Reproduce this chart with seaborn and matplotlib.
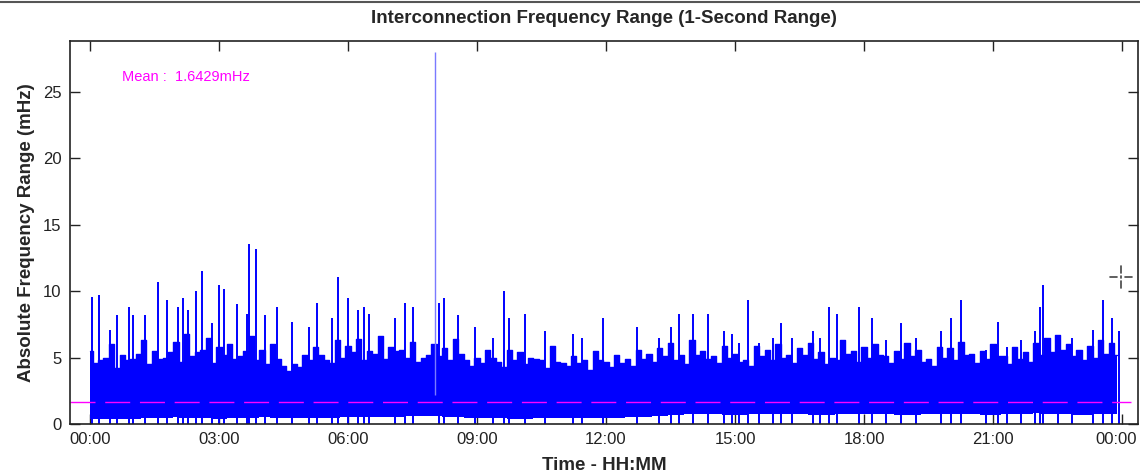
import numpy as np
import pandas as pd
import matplotlib
matplotlib.use('Agg')
import matplotlib.pyplot as plt
from matplotlib.lines import Line2D
from matplotlib.transforms import ScaledTranslation
import seaborn as sns

# ---- data (hours since 00:00, mHz) ----
MEAN_MHZ = 1.6429

spike_hours = [0.04, 0.22, 0.47, 0.62, 0.91, 0.99, 1.29, 1.59, 1.78, 2.04, 2.16, 2.29,
               2.46, 2.60, 2.83, 3.01, 3.12, 3.43, 3.64, 3.70, 3.85, 4.07, 4.36, 4.69,
               5.09, 5.27, 5.62, 5.76, 6.01, 6.24, 6.36, 6.49, 7.09, 7.33, 7.50, 8.02,
               8.12, 8.23, 8.55, 8.95, 9.38, 9.63, 9.75, 10.12, 10.57, 11.23, 11.45, 11.92,
               12.73, 13.22, 13.50, 13.70, 14.02, 14.36, 14.74, 14.92, 15.09, 15.30, 15.56,
               15.89, 16.06, 16.32, 16.81, 16.98, 17.19, 17.36, 17.88, 18.18, 18.51, 18.85,
               19.21, 19.79, 20.01, 20.26, 20.83, 21.12, 21.32, 21.65, 21.98, 22.09, 22.16,
               22.52, 22.83, 23.33, 23.55, 23.77, 23.93]
spike_vals = [9.6, 9.7, 7.1, 8.2, 8.8, 8.2, 8.2, 10.7, 9.3, 8.8, 9.5, 8.6,
              10.0, 11.5, 7.6, 10.5, 10.2, 9.0, 8.3, 13.55, 13.2, 8.2, 8.8, 7.7,
              7.3, 9.1, 8.0, 11.1, 9.5, 8.6, 8.8, 8.3, 8.0, 9.1, 8.8, 28.0,
              9.1, 9.5, 8.2, 7.3, 6.5, 10.0, 8.0, 8.3, 7.0, 6.8, 6.5, 8.0,
              7.3, 6.5, 7.3, 8.3, 8.3, 8.3, 7.0, 6.8, 6.1, 9.3, 6.1,
              6.5, 7.6, 6.5, 7.0, 6.5, 8.8, 8.3, 8.8, 8.0, 6.3, 7.6,
              6.5, 7.0, 8.0, 9.3, 5.6, 7.7, 5.8, 6.3, 7.0, 8.8, 10.5,
              6.0, 6.5, 7.1, 9.3, 8.0, 7.0]

# upper level of the dense trace, on the quarter hour (00:00 .. 23:45)
mid_peaks = [5.5, 4.8, 6.0, 5.2, 4.9, 6.3, 5.5, 5.0, 6.2, 6.8, 5.4, 6.5, 5.8, 6.0, 5.1, 6.6,
             5.6, 6.0, 4.4, 4.5, 5.2, 5.8, 4.8, 6.3, 5.9, 6.4, 5.5, 6.6, 5.8, 5.6, 6.2, 5.0,
             6.0, 5.7, 6.4, 4.8, 5.0, 5.6, 4.7, 5.6, 5.4, 5.0, 4.8, 5.9, 4.6, 5.1, 4.8, 5.5,
             4.7, 5.2, 4.9, 5.6, 5.3, 5.7, 6.1, 5.2, 6.3, 5.5, 5.1, 5.9, 5.3, 4.8, 5.9, 5.6,
             6.0, 5.2, 5.7, 6.1, 5.4, 5.0, 6.3, 5.5, 5.8, 6.0, 5.1, 5.5, 6.1, 5.6, 4.9, 5.8,
             5.7, 6.2, 5.3, 5.5, 6.0, 5.1, 5.8, 5.4, 6.1, 6.5, 6.7, 6.0, 5.6, 5.9, 6.3, 6.1]

# upper level between the quarter-hour marks (00:07 .. 23:52)
fill_peaks = [4.6, 5.0, 4.2, 4.8, 5.3, 4.5, 4.9, 5.4, 4.7, 5.1, 5.6, 4.6, 5.2, 4.9, 5.5, 4.8,
              4.5, 4.9, 4.0, 4.3, 4.8, 5.2, 4.6, 5.0, 5.4, 4.8, 5.3, 4.9, 5.5, 5.0, 4.7, 5.2,
              5.1, 4.8, 5.3, 4.4, 4.6, 5.0, 4.3, 4.8, 4.5, 4.9, 4.2, 4.7, 4.4, 4.6, 4.1, 4.8,
              4.3, 4.6, 4.4, 4.9, 4.7, 5.1, 4.8, 4.5, 5.2, 4.9, 4.6, 5.0, 4.7, 4.4, 5.1, 4.8,
              5.0, 4.6, 5.2, 4.9, 4.5, 4.8, 5.3, 4.7, 5.0, 5.2, 4.6, 4.9, 5.1, 4.7, 4.4, 5.0,
              4.8, 5.2, 4.6, 4.9, 5.1, 4.5, 4.9, 4.7, 5.2, 5.4, 5.6, 5.1, 4.8, 5.0, 5.3, 5.2]

# lower edge of the trace, every hour (00:00 .. 24:00)
band_lo = [0.35, 0.4, 0.5, 0.4, 0.5, 0.45, 0.5, 0.55, 0.6, 0.45, 0.4, 0.45, 0.45,
           0.55, 0.75, 0.7, 0.75, 0.7, 0.75, 0.7, 0.75, 0.7, 0.8, 0.7, 0.75]

x_ticks = [0, 3, 6, 9, 12, 15, 18, 21, 24]
x_labels = ['00:00', '03:00', '06:00', '09:00', '12:00', '15:00', '18:00', '21:00', '00:00']
y_ticks = [0, 5, 10, 15, 20, 25]

BLUE = '#0000ff'
END_H = 23.95

sns.set_style('ticks')
plt.rcParams['font.family'] = ['Liberation Sans', 'DejaVu Sans']

fig = plt.figure(figsize=(11.4, 4.75), dpi=100)
ax = fig.add_axes([70 / 1140, 1 - 424 / 475, 1068 / 1140, 383 / 475])

# dense trace: quarter-hour and in-between levels interleaved
upper = np.empty(len(mid_peaks) * 2)
upper[0::2] = mid_peaks
upper[1::2] = fill_peaks
up_t = np.minimum(np.arange(len(upper)) * 0.125, END_H)
lo_t = np.minimum(np.arange(len(band_lo)) * 1.0, END_H)
trace = pd.DataFrame({'hour': up_t, 'hi': upper, 'lo': np.interp(up_t, lo_t, band_lo)})
ax.fill_between(trace['hour'], trace['lo'], trace['hi'], step='mid', color=BLUE, lw=0)
sns.lineplot(data=trace, x='hour', y='hi', ax=ax, color=BLUE, lw=1, drawstyle='steps-mid')

spikes = pd.DataFrame({'hour': spike_hours, 'val': spike_vals})
tall = spikes['val'] > 20
ax.vlines(spikes.loc[~tall, 'hour'], 0, spikes.loc[~tall, 'val'], color=BLUE, lw=1.4)
ax.vlines(spikes.loc[tall, 'hour'], 2.2, spikes.loc[tall, 'val'], color='#7a7aff', lw=1.0)

# mean line
mean_df = pd.DataFrame({'hour': [-0.47, 24.2], 'mean': [MEAN_MHZ, MEAN_MHZ]})
sns.lineplot(data=mean_df, x='hour', y='mean', ax=ax, color='#ff00ff', lw=1.0)
ax.lines[-1].set_dashes((18, 7))
ax.text(0.74, 26.1, 'Mean :  1.6429mHz', color='#ff00ff', fontsize=10.5, va='center')

ax.set_xlim(-0.465, 24.37)
ax.set_ylim(0, 28.84)
ax.set_xticks(x_ticks)
ax.set_xticklabels(x_labels)
ax.set_yticks(y_ticks)
ax.tick_params(direction='in', top=True, right=True, length=7, width=1,
               labelsize=12, colors='#222222', pad=6)
last = ax.get_xticklabels()[-1]
last.set_transform(last.get_transform() + ScaledTranslation(-6 / 100, 0, fig.dpi_scale_trans))
for s in ax.spines.values():
    s.set_linewidth(1.2)
    s.set_color('#222222')

ax.set_title('Interconnection Frequency Range (1-Second Range)', fontsize=13.5,
             fontweight='bold', pad=13)
ax.set_xlabel('Time - HH:MM', fontsize=13.5, fontweight='bold', labelpad=7)
ax.set_ylabel('Absolute Frequency Range (mHz)', fontsize=13.5, fontweight='bold', labelpad=6)

# top frame line and cursor mark
fig.add_artist(Line2D([0, 1], [1 - 1.5 / 475, 1 - 1.5 / 475], transform=fig.transFigure,
                      color='#555555', lw=1.5))
cx, cy = 1121, 475 - 277
for (x0, y0, x1, y1) in [(cx - 11, cy, cx - 4, cy), (cx + 4, cy, cx + 11, cy),
                         (cx, cy - 11, cx, cy - 4), (cx, cy + 4, cx, cy + 11),
                         (cx, cy - 0.6, cx, cy + 0.6)]:
    fig.add_artist(Line2D([x0 / 1140, x1 / 1140], [y0 / 475, y1 / 475],
                          transform=fig.transFigure, color='#444444', lw=1.2))

fig.savefig('out.png', dpi=100)
